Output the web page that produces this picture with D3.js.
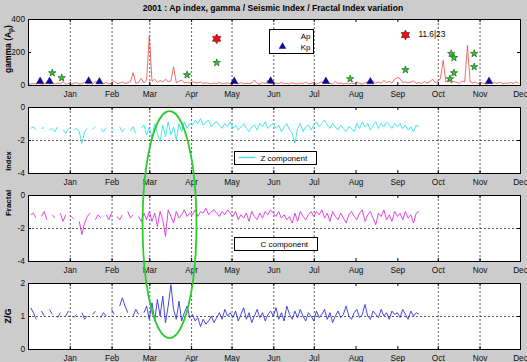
<!DOCTYPE html>
<html>
<head>
<meta charset="utf-8">
<script src="https://cdn.jsdelivr.net/npm/d3@7"></script>
<style>
  body { margin: 0; background: #cccccc; }
  svg { display: block; font-family: 'Liberation Sans', Arial, sans-serif; }
</style>
</head>
<body>
<div id="chart"></div>
<script>

// ━━━━━━━━━━━━━━━━━━━━━━━━━━━━━━━━━━━━━━━━━━━━━━━━━━━━━━━━━━━━━━━━━━━━━━━━━━━━━━━━━━━━
// Datos  //////////////////////////////////////////////////////////////////////////////
// ━━━━━━━━━━━━━━━━━━━━━━━━━━━━━━━━━━━━━━━━━━━━━━━━━━━━━━━━━━━━━━━━━━━━━━━━━━━━━━━━━━━━

// dias contados desde el 1 dic 2000
const monthLabels = ['Jan','Feb','Mar','Apr','May','Jun','Jul','Aug','Sep','Oct','Nov','Dec'];
const gridMonths  = ['Jan','Feb','Mar','Apr','May','Jun','Jul','Oct','Nov'];

// Ap index, un valor cada 2 dias desde el dia 0
const apStart = 0, apStep = 2;
const apValues = [
  8, 5, 10, 6, 12, 4, 7, 15, 6, 9,
  5, 12, 7, 20, 6, 8, 5, 10, 14, 6,
  8, 18, 6, 10, 5, 22, 9, 12, 7, 15,
  6, 10, 25, 8, 12, 18, 9, 14, 20, 75,
  10, 16, 40, 12, 30, 300, 22, 35, 15, 28,
  18, 35, 20, 25, 110, 14, 22, 30, 12, 18,
  10, 20, 15, 12, 18, 8, 14, 10, 6, 12,
  8, 15, 6, 10, 12, 5, 18, 9, 7, 14,
  6, 10, 8, 12, 30, 9, 6, 14, 8, 30,
  10, 6, 12, 8, 16, 7, 10, 5, 14, 8,
  6, 12, 9, 18, 7, 10, 14, 6, 12, 20,
  8, 15, 10, 6, 22, 9, 12, 7, 10, 5,
  12, 8, 18, 10, 6, 14, 20, 9, 25, 12,
  18, 10, 28, 15, 22, 12, 35, 45, 40, 15,
  20, 12, 18, 25, 10, 15, 8, 22, 12, 18,
  35, 15, 20, 40, 150, 18, 30, 12, 22, 15,
  10, 25, 18, 240, 20, 12, 18, 8, 14, 10,
  6, 12, 8, 15, 10, 18, 7, 12, 9, 15, 8, 20, 10
];

const kpDays   = [9, 16, 45, 53, 153, 180, 221, 254, 342];
const kpValues = [22, 22, 24, 20, 22, 24, 22, 20, 22];

const gammaDays   = [18, 25, 118, 140, 239, 280, 314, 316, 316, 313, 331, 331];
const gammaValues = [73, 43, 61, 135, 37, 92, 190, 165, 73, 37, 190, 110];

const quakeDays   = [140, 280];
const quakeValues = [280, 303];
const quakeLabels = ['', '11.6|23'];

// Z component, C component y Z/G: un valor cada 2 dias desde el dia 2
const seriesStart = 2, seriesStep = 2;
const zValues = [
  -1.3, -1.2, -1.4, null, -1.3, -1.25, null, -1.4, -1.3, -1.5, -1.2, null, -1.35, -1.6, -1.3,
  null, -1.4, -1.3, -1.5, -2.2, -1.5, -1.3, null, -1.35, -1.2, null, -1.3, -1.5, -1.25, null,
  -1.25, -1.4, null, -1.2, -1.5, -1.3, null, -1.45, -1.2, -1.6, null, -1.3, -1.1, -1.7,
  -1.2, -1.9, -1.0, -1.6, -2.1, -1.1, -1.8, -0.9, -1.7, -1.2, -2.0, -1.0, -1.5, -0.9, -1.3, -1.0,
  -1.1, -0.8, -1.0, -0.7, -1.1, -0.9, -0.8, -1.2, -1.0, -0.9, -1.1, -1.3, -1.0, -1.2, -0.9,
  -1.3, -1.1, -1.4, -1.2, -1.0, -1.3, -1.5, -1.2, -1.1, -1.4, -1.0, -1.2, -0.9, -1.3, -1.1,
  -1.0, -1.3, -1.1, -1.5, -1.2, -1.0, -1.4, -1.6, -2.2, -1.3, -1.0, -1.5, -1.2, -1.1, -1.4,
  -1.1, -0.9, -1.2, -1.0, -0.8, -1.1, -1.3, -1.0, -1.2, -1.4, -1.1, -1.3, -1.5, -1.2, -1.3, -1.5,
  -1.0, -1.3, -0.9, -1.2, -1.0, -1.4, -1.1, -0.9, -1.3, -1.0, -1.2, -0.9, -1.1, -1.3, -1.0,
  -1.2, -1.0, -1.3, -1.1, -1.4, -1.2, -1.5, -1.1, -1.2
];

const cValues = [
  -1.2, -1.1, -1.4, null, -1.3, -1.0, -1.5, null, -1.2, -1.4, null, -1.1, -1.6, -1.2, null,
  -1.3, -1.45, null, -1.6, -2.4, -1.7, -1.3, -1.1, null, -1.5, -1.2, -1.4, null, -1.2, -1.5,
  -1.1, null, -1.3, -1.5, -1.2, null, -1.0, -1.4, -1.2, null, -1.3, -1.6, -1.1, -1.5,
  -1.0, -1.6, -1.1, -1.9, -1.0, -1.5, -2.5, -0.9, -1.3, -1.7, -1.0, -1.4, -1.2, -0.9, -1.3, -1.1,
  -1.2, -0.9, -1.3, -1.0, -1.1, -0.8, -1.2, -1.0, -0.9, -1.1, -1.3, -1.0, -1.2, -0.9, -1.1,
  -1.3, -1.0, -1.5, -1.2, -1.4, -1.1, -1.6, -1.0, -1.3, -1.5, -1.1, -1.4, -1.0, -1.2, -0.9,
  -1.1, -1.3, -1.0, -1.4, -1.2, -1.5, -1.3, -1.7, -1.1, -1.6, -1.0, -1.3, -1.5, -1.2, -1.0,
  -1.3, -1.0, -1.2, -0.9, -1.4, -1.1, -1.6, -1.0, -1.3, -1.5, -1.1, -1.4, -1.7, -1.2, -1.0, -1.3,
  -1.5, -1.1, -0.9, -1.6, -1.2, -1.0, -1.4, -1.8, -1.1, -1.3, -0.9, -1.5, -1.2, -1.6, -1.0,
  -1.3, -1.1, -1.5, -1.0, -1.4, -1.2, -1.7, -1.1, -1.0
];

const zgValues = [
  1.25, 1.1, 0.9, null, 1.15, 1.0, null, 1.2, 1.05, null, 0.95, 1.1, null, 1.0, 1.15,
  null, 0.95, 1.05, null, 1.1, 0.9, 1.0, null, 1.05, 1.15, null, 0.95, 1.1, 1.0, null,
  1.2, 1.05, null, 1.3, 1.55, 1.3, 1.1, null, 1.0, 1.2, 1.05, null, 1.1, 1.3,
  0.9, 1.4, 0.85, 1.5, 1.0, 1.6, 0.8, 1.3, 1.95, 1.2, 0.9, 1.45, 0.85, 1.1, 1.3, 0.95,
  1.05, 0.85, 0.95, 0.68, 0.9, 0.75, 0.85, 1.0, 0.8, 0.95, 1.1, 0.9, 1.2, 1.0, 1.1,
  0.95, 1.15, 0.85, 1.05, 1.25, 0.9, 1.1, 0.8, 1.0, 1.2, 0.95, 1.1, 0.85, 1.05, 1.15,
  1.0, 1.25, 0.9, 1.1, 0.85, 1.3, 1.05, 0.9, 1.15, 0.95, 1.2, 1.0, 0.85, 1.1, 1.0,
  0.85, 1.15, 0.95, 1.05, 1.2, 0.9, 1.1, 0.8, 1.0, 1.15, 0.95, 1.05, 1.3, 1.0, 0.9, 1.1,
  1.2, 0.95, 1.05, 1.35, 1.0, 0.9, 1.15, 1.05, 0.95, 1.2, 1.0, 1.1, 0.9, 1.15, 1.05,
  1.1, 0.95, 1.2, 1.05, 0.9, 1.15, 1.0, 1.1, 1.05
];

// ━━━━━━━━━━━━━━━━━━━━━━━━━━━━━━━━━━━━━━━━━━━━━━━━━━━━━━━━━━━━━━━━━━━━━━━━━━━━━━━━━━━━
// SVG setup //////////////////////////////////////////////////////////////////////////
// ━━━━━━━━━━━━━━━━━━━━━━━━━━━━━━━━━━━━━━━━━━━━━━━━━━━━━━━━━━━━━━━━━━━━━━━━━━━━━━━━━━━━

const width = 527;
const height = 362;
const left = 28, right = 520;

const svg = d3.select('#chart').append('svg')
  .attr('width', width)
  .attr('height', height)
  .attr('viewBox', [0, 0, width, height]);

svg.append('rect').attr('width', width).attr('height', height).attr('fill', '#cccccc');

const t0 = new Date(2000, 11, 1);
const day = d => d3.timeDay.offset(t0, d);
const monthDate = m => new Date(2001, monthLabels.indexOf(m), 1);

const x = d3.scaleTime()
  .domain([t0, new Date(2001, 11, 1)])
  .range([left, right]);

const panels = [
  { id: 'ap', top: 19,  bottom: 85,  domain: [0, 400], ticks: [0, 200, 400], grid: [] },
  { id: 'z',  top: 107, bottom: 173, domain: [-4, 0],  ticks: [-4, -2, 0],   grid: [-2] },
  { id: 'c',  top: 195, bottom: 261, domain: [-4, 0],  ticks: [-4, -2, 0],   grid: [-2] },
  { id: 'zg', top: 283, bottom: 349, domain: [0, 2],   ticks: [0, 1, 2],     grid: [1] }
];
panels.forEach(p => p.y = d3.scaleLinear().domain(p.domain).range([p.bottom, p.top]));

// Titulo
svg.append('text')
  .attr('x', 273).attr('y', 11)
  .attr('text-anchor', 'middle')
  .attr('font-size', 8.6).attr('font-weight', 'bold')
  .text('2001 : Ap index, gamma / Seismic Index / Fractal Index variation');

// ━━━━━━━━━━━━━━━━━━━━━━━━━━━━━━━━━━━━━━━━━━━━━━━━━━━━━━━━━━━━━━━━━━━━━━━━━━━━━━━━━━━━
// Ejes + grilla //////////////////////////////////////////////////////////////////////
// ━━━━━━━━━━━━━━━━━━━━━━━━━━━━━━━━━━━━━━━━━━━━━━━━━━━━━━━━━━━━━━━━━━━━━━━━━━━━━━━━━━━━

panels.forEach(p => {
  const g = svg.append('g').attr('id', 'panel-' + p.id);
  p.g = g;

  g.append('rect')
    .attr('x', left).attr('y', p.top)
    .attr('width', right - left).attr('height', p.bottom - p.top)
    .attr('fill', '#fff');

  // grilla vertical
  g.append('g').selectAll('line')
    .data(gridMonths)
    .join('line')
    .attr('x1', d => x(monthDate(d)) + 0.5).attr('x2', d => x(monthDate(d)) + 0.5)
    .attr('y1', p.top).attr('y2', p.bottom)
    .attr('stroke', '#333').attr('stroke-width', 0.8)
    .attr('stroke-dasharray', '2,2');

  // grilla horizontal
  g.append('g').selectAll('line')
    .data(p.grid)
    .join('line')
    .attr('x1', left).attr('x2', right)
    .attr('y1', d => p.y(d) + 0.5).attr('y2', d => p.y(d) + 0.5)
    .attr('stroke', '#333').attr('stroke-width', 0.8)
    .attr('stroke-dasharray', '2,2');

  p.marks = g.append('g');

  g.append('g')
    .attr('transform', `translate(0,${p.bottom})`)
    .call(d3.axisBottom(x)
      .tickValues(monthLabels.map(monthDate))
      .tickFormat(d3.timeFormat('%b'))
      .tickSizeInner(-3).tickSizeOuter(0).tickPadding(6));

  g.append('g')
    .attr('transform', `translate(0,${p.top})`)
    .call(d3.axisTop(x).tickValues(monthLabels.map(monthDate)).tickFormat('')
      .tickSizeInner(-3).tickSizeOuter(0));

  g.append('g')
    .attr('transform', `translate(${left},0)`)
    .call(d3.axisLeft(p.y).tickValues(p.ticks).tickFormat(d => String(d))
      .tickSizeInner(-3).tickSizeOuter(0).tickPadding(3));

  g.append('g')
    .attr('transform', `translate(${right},0)`)
    .call(d3.axisRight(p.y).tickValues(p.ticks).tickFormat('')
      .tickSizeInner(-3).tickSizeOuter(0));

  g.selectAll('.domain').remove();
  g.selectAll('.tick line').attr('stroke', '#000');
  g.selectAll('.tick text').attr('font-size', 8.3).attr('fill', '#111')
    .attr('font-family', "'Liberation Sans', Arial, sans-serif");

  g.append('rect')
    .attr('x', left + 0.5).attr('y', p.top + 0.5)
    .attr('width', right - left).attr('height', p.bottom - p.top)
    .attr('fill', 'none').attr('stroke', '#000');
});

// etiquetas de los ejes y
const ylab = [
  { text: 'Index',   cy: 161, size: 7.5 },
  { text: 'Fractal', cy: 203, size: 8 },
  { text: 'Z/G',     cy: 316, size: 9 }
];
svg.append('g').selectAll('text')
  .data(ylab)
  .join('text')
  .attr('transform', d => `translate(11,${d.cy}) rotate(-90)`)
  .attr('text-anchor', 'middle')
  .attr('font-size', d => d.size).attr('font-weight', 'bold')
  .text(d => d.text);

const gl = svg.append('text')
  .attr('transform', 'translate(11,49) rotate(-90)')
  .attr('text-anchor', 'middle')
  .attr('font-size', 8.5).attr('font-weight', 'bold');
gl.append('tspan').text('gamma (A');
gl.append('tspan').attr('font-size', 6.5).attr('dy', 2).text('p');
gl.append('tspan').attr('dy', -2).text(')');

// ━━━━━━━━━━━━━━━━━━━━━━━━━━━━━━━━━━━━━━━━━━━━━━━━━━━━━━━━━━━━━━━━━━━━━━━━━━━━━━━━━━━━
// Series /////////////////////////////////////////////////////////////////////////////
// ━━━━━━━━━━━━━━━━━━━━━━━━━━━━━━━━━━━━━━━━━━━━━━━━━━━━━━━━━━━━━━━━━━━━━━━━━━━━━━━━━━━━

function drawLine(p, values, start, step, color, w) {
  const pts = values.map((v, i) => ({ t: day(start + i * step), v: v }));
  const line = d3.line()
    .defined(d => d.v !== null)
    .x(d => x(d.t))
    .y(d => p.y(d.v));
  p.marks.append('path')
    .attr('d', line(pts))
    .attr('fill', 'none')
    .attr('stroke', color)
    .attr('stroke-width', w)
    .attr('stroke-linejoin', 'round');
}

drawLine(panels[0], apValues, apStart, apStep, '#f03c3c', 0.75);
drawLine(panels[1], zValues, seriesStart, seriesStep, '#30e4e4', 0.9);
drawLine(panels[2], cValues, seriesStart, seriesStep, '#e030e0', 0.9);
drawLine(panels[3], zgValues, seriesStart, seriesStep, '#2828dc', 0.85);

// Marcadores panel 1
const hexagram = {
  draw(ctx, size) {
    const r = Math.sqrt(size / 1.3);
    const ri = r / Math.sqrt(3);
    for (let k = 0; k < 12; k++) {
      const a = k * Math.PI / 6 - Math.PI / 2;
      const rr = k % 2 ? ri : r;
      if (k === 0) ctx.moveTo(rr * Math.cos(a), rr * Math.sin(a));
      else ctx.lineTo(rr * Math.cos(a), rr * Math.sin(a));
    }
    ctx.closePath();
  }
};

const p1 = panels[0];

p1.marks.append('g').selectAll('path')
  .data(d3.zip(kpDays, kpValues))
  .join('path')
  .attr('transform', d => `translate(${x(day(d[0]))},${p1.y(d[1])})`)
  .attr('d', d3.symbol(d3.symbolTriangle, 24))
  .attr('fill', '#0a0aa8').attr('stroke', '#000040').attr('stroke-width', 0.4);

p1.marks.append('g').selectAll('path')
  .data(d3.zip(gammaDays, gammaValues))
  .join('path')
  .attr('transform', d => `translate(${x(day(d[0]))},${p1.y(d[1])})`)
  .attr('d', d3.symbol(d3.symbolStar, 17))
  .attr('fill', '#2ecc2e').attr('stroke', '#0a4a0a').attr('stroke-width', 0.6);

p1.marks.append('g').selectAll('path')
  .data(d3.zip(quakeDays, quakeValues))
  .join('path')
  .attr('transform', d => `translate(${x(day(d[0]))},${p1.y(d[1])})`)
  .attr('d', d3.symbol(hexagram, 30))
  .attr('fill', '#ee1010').attr('stroke', '#500000').attr('stroke-width', 0.6);

p1.marks.append('g').selectAll('text')
  .data(d3.zip(quakeDays, quakeValues, quakeLabels))
  .join('text')
  .attr('x', d => x(day(d[0])) + 13)
  .attr('y', d => p1.y(d[1]) + 2)
  .attr('font-size', 8.3)
  .text(d => d[2]);

// ━━━━━━━━━━━━━━━━━━━━━━━━━━━━━━━━━━━━━━━━━━━━━━━━━━━━━━━━━━━━━━━━━━━━━━━━━━━━━━━━━━━━
// Leyendas ///////////////////////////////////////////////////////////////////////////
// ━━━━━━━━━━━━━━━━━━━━━━━━━━━━━━━━━━━━━━━━━━━━━━━━━━━━━━━━━━━━━━━━━━━━━━━━━━━━━━━━━━━━

const leg1 = svg.append('g').attr('transform', 'translate(269.5,29.5)');
leg1.append('rect').attr('width', 44).attr('height', 24).attr('fill', '#fff').attr('stroke', '#000');
leg1.append('text').attr('x', 41).attr('y', 9).attr('text-anchor', 'end').attr('font-size', 8).text('Ap');
leg1.append('text').attr('x', 41).attr('y', 20).attr('text-anchor', 'end').attr('font-size', 8).text('Kp');
leg1.append('path').attr('transform', 'translate(13,17)')
  .attr('d', d3.symbol(d3.symbolTriangle, 24)).attr('fill', '#0a0aa8');

const leg2 = svg.append('g').attr('transform', 'translate(234.5,151.5)');
leg2.append('rect').attr('width', 82).attr('height', 13).attr('fill', '#fff').attr('stroke', '#000');
leg2.append('line').attr('x1', 4).attr('x2', 21).attr('y1', 6).attr('y2', 6)
  .attr('stroke', '#30e4e4').attr('stroke-width', 1.2);
leg2.append('text').attr('x', 26).attr('y', 9.5).attr('font-size', 8).text('Z component');

const leg3 = svg.append('g').attr('transform', 'translate(234.5,237.5)');
leg3.append('rect').attr('width', 83).attr('height', 13).attr('fill', '#fff').attr('stroke', '#000');
leg3.append('text').attr('x', 26).attr('y', 9.5).attr('font-size', 8).text('C component');

// ━━━━━━━━━━━━━━━━━━━━━━━━━━━━━━━━━━━━━━━━━━━━━━━━━━━━━━━━━━━━━━━━━━━━━━━━━━━━━━━━━━━━
// Elipse verde (marzo) ///////////////////////////////////////////////////////////////
// ━━━━━━━━━━━━━━━━━━━━━━━━━━━━━━━━━━━━━━━━━━━━━━━━━━━━━━━━━━━━━━━━━━━━━━━━━━━━━━━━━━━━

const ellTop = panels[1].y(-0.25);
const ellBottom = panels[3].y(0.33);
svg.append('ellipse')
  .attr('cx', x(day(105)))
  .attr('cy', (ellTop + ellBottom) / 2)
  .attr('rx', x(day(125)) - x(day(105)))
  .attr('ry', (ellBottom - ellTop) / 2)
  .attr('fill', 'none')
  .attr('stroke', '#2ccc2c')
  .attr('stroke-width', 1.8);

</script>
</body>
</html>
